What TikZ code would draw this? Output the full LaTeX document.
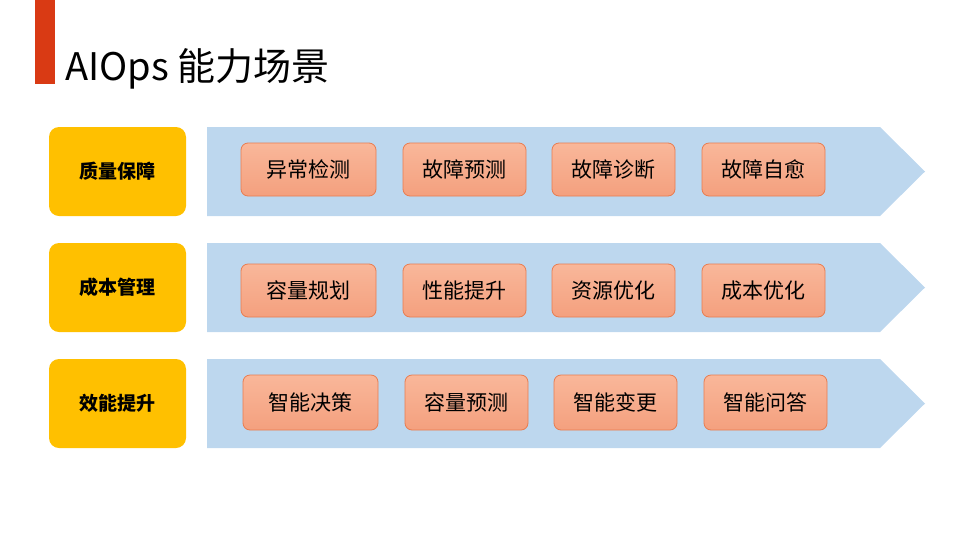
\documentclass[tikz,border=0pt]{standalone}
\usepackage{fontspec}
\setmainfont{Noto Sans CJK SC}
\begin{document}
\begin{tikzpicture}[x=1pt,y=-1pt,
  cat/.style={draw=none,fill=catY,rounded corners=10pt,minimum width=137pt,minimum height=89pt,font=\fontsize{19}{22}\selectfont\bfseries,inner sep=0pt},
  pill/.style={draw=pillB,line width=0.8pt,top color=pillT,bottom color=pillBot,rounded corners=7pt,minimum width=123pt,minimum height=53pt,font=\fontsize{21}{24}\selectfont,inner sep=0pt},
  band/.style={fill=bandC,draw=none}]
\definecolor{catY}{HTML}{FFC000}
\definecolor{pillB}{HTML}{E97C4F}
\definecolor{pillT}{HTML}{F9B79A}
\definecolor{pillBot}{HTML}{F4A07E}
\definecolor{bandC}{HTML}{BDD7EE}
\definecolor{redbar}{HTML}{D93A14}
\useasboundingbox (0,0) rectangle (959,539);
\fill[redbar] (35,0) rectangle (55,84);
\node[anchor=base west,font=\fontsize{38}{44}\selectfont,inner sep=0pt] (title) at (65,80) {AIOps 能力场景};
\foreach \r/\y in {1/127,2/243,3/359}{
  \fill[band] (207,\y) -- (880,\y) -- (925,\y+44.5) -- (880,\y+89) -- (207,\y+89) -- cycle;
}
\node[cat] (c1) at (117.5,171.5) {质量保障};
\node[cat] (c2) at (117.5,287.5) {成本管理};
\node[cat] (c3) at (117.5,403.5) {效能提升};
\node[pill,minimum width=135pt] (p11) at (308.5,169.5) {异常检测};
\node[pill] (p12) at (464.5,169.5) {故障预测};
\node[pill] (p13) at (613.5,169.5) {故障诊断};
\node[pill] (p14) at (763.5,169.5) {故障自愈};
\node[pill,minimum width=135pt] (p21) at (308.5,290.5) {容量规划};
\node[pill] (p22) at (464.5,290.5) {性能提升};
\node[pill] (p23) at (613.5,290.5) {资源优化};
\node[pill] (p24) at (763.5,290.5) {成本优化};
\node[pill,minimum width=135pt,minimum height=55pt] (p31) at (310.5,402.5) {智能决策};
\node[pill,minimum height=55pt] (p32) at (466.5,402.5) {容量预测};
\node[pill,minimum height=55pt] (p33) at (615.5,402.5) {智能变更};
\node[pill,minimum height=55pt] (p34) at (765.5,402.5) {智能问答};
\end{tikzpicture}
\end{document}
